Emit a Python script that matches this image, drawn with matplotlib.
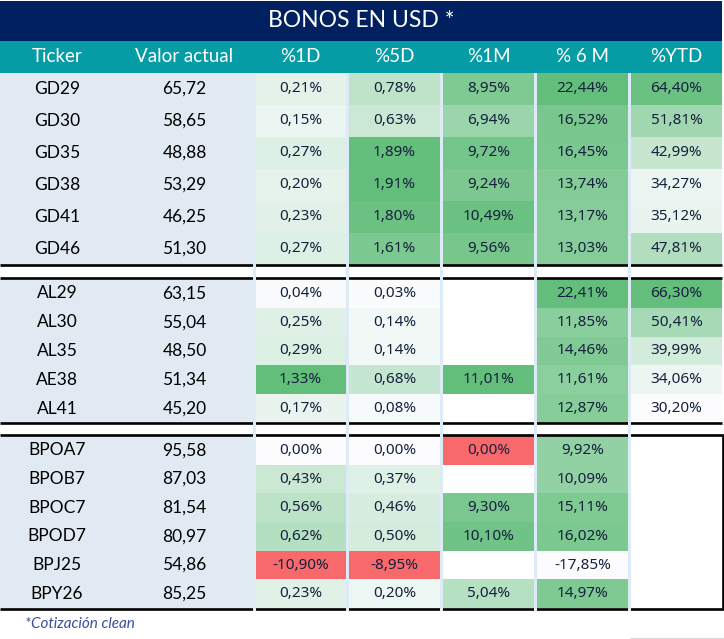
import matplotlib.pyplot as plt
from matplotlib.patches import Rectangle
from matplotlib.colors import LinearSegmentedColormap

# datos
titulo = 'BONOS EN USD *'
encabezados = ['Ticker', 'Valor actual', '%1D', '%5D', '%1M', '% 6 M', '%YTD']
grupos = [6, 5, 6]
tickers = ['GD29', 'GD30', 'GD35', 'GD38', 'GD41', 'GD46',
           'AL29', 'AL30', 'AL35', 'AE38', 'AL41',
           'BPOA7', 'BPOB7', 'BPOC7', 'BPOD7', 'BPJ25', 'BPY26']
valor_actual = [65.72, 58.65, 48.88, 53.29, 46.25, 51.30,
                63.15, 55.04, 48.50, 51.34, 45.20,
                95.58, 87.03, 81.54, 80.97, 54.86, 85.25]
var_1d = [0.21, 0.15, 0.27, 0.20, 0.23, 0.27,
          0.04, 0.25, 0.29, 1.33, 0.17,
          0.00, 0.43, 0.56, 0.62, -10.90, 0.23]
var_5d = [0.78, 0.63, 1.89, 1.91, 1.80, 1.61,
          0.03, 0.14, 0.14, 0.68, 0.08,
          0.00, 0.37, 0.46, 0.50, -8.95, 0.20]
var_1m = [8.95, 6.94, 9.72, 9.24, 10.49, 9.56,
          None, None, None, 11.01, None,
          0.00, None, 9.30, 10.10, None, 5.04]
var_6m = [22.44, 16.52, 16.45, 13.74, 13.17, 13.03,
          22.41, 11.85, 14.46, 11.61, 12.87,
          9.92, 10.09, 15.11, 16.02, -17.85, 14.97]
var_ytd = [64.40, 51.81, 42.99, 34.27, 35.12, 47.81,
           66.30, 50.41, 39.99, 34.06, 30.20,
           None, None, None, None, None, None]
nota = '*Cotización clean'

columnas = [var_1d, var_5d, var_1m, var_6m, var_ytd]
# escala 3 colores con punto medio en 0 (True) o escala min->max blanco-verde (False)
escala_cero = [True, True, True, False, False]

NAVY = '#002060'
TEAL = '#069CA5'
GRIS_AZUL = '#E1E9F3'
SEP = '#DDEBF7'
TEXTO = '#16213D'
verdes = LinearSegmentedColormap.from_list('verdes', ['#FCFCFF', '#63BE7B'])
rojos = LinearSegmentedColormap.from_list('rojos', ['#FCFCFF', '#F8696B'])


def color_celda(v, col, cero):
    vals = [x for x in col if x is not None]
    vmin, vmax = min(vals), max(vals)
    if cero:
        if v > 0:
            return verdes(v / vmax)
        if vmin == 0:
            return rojos(1.0)
        return rojos(v / vmin) if vmin < 0 else verdes(0)
    return verdes((v - vmin) / (vmax - vmin))


def fmt(v):
    return f'{v:.2f}'.replace('.', ',')


plt.rcParams['font.family'] = ['Lato', 'DejaVu Sans']
fig = plt.figure(figsize=(7.24, 6.39), dpi=100)
ax = fig.add_axes([0, 0, 1, 1])
ax.set_xlim(0, 724)
ax.set_ylim(639, 0)
ax.axis('off')

# titulo y encabezado
ax.add_patch(Rectangle((0, 1), 722, 39.5, color=NAVY, lw=0))
ax.text(361, 20.5, titulo, color='white', fontsize=16.5, ha='center', va='center')
ax.add_patch(Rectangle((0, 41), 722, 31.5, color=TEAL, lw=0))

x_datos = [255, 349, 443, 537, 631]
ancho = 91
centros = [57, 184.5] + [x + ancho / 2 for x in x_datos]
for c, h in zip(centros, encabezados):
    ax.text(c, 57, h, color='white', fontsize=13.5, ha='center', va='center')

tops = [73, 279, 436]
alturas = [32, 28.8, 28.67]

i = 0
for g, (n, top, rh) in enumerate(zip(grupos, tops, alturas)):
    ax.add_patch(Rectangle((0, top), 253, n * rh, color=GRIS_AZUL, lw=0))
    for r in range(n):
        y = top + r * rh
        yc = y + rh / 2
        ax.text(centros[0], yc, tickers[i], color='black', fontsize=12.5, ha='center', va='center')
        ax.text(centros[1], yc, fmt(valor_actual[i]), color='black', fontsize=12.5,
                ha='center', va='center')
        for j, (col, cero) in enumerate(zip(columnas, escala_cero)):
            v = col[i]
            if v is None:
                continue
            ax.add_patch(Rectangle((x_datos[j], y), ancho, rh,
                                   color=color_celda(v, col, cero), lw=0))
            ax.text(x_datos[j] + ancho / 2, yc, fmt(v) + '%', color=TEXTO, fontsize=11,
                    ha='center', va='center', family=['Noto Sans', 'DejaVu Sans'])
        i += 1

# lineas negras entre grupos
for y in [265, 277.8, 423, 435, 609]:
    ax.plot([0, 722], [y, y], color='black', lw=1.9, solid_capstyle='butt')
ax.plot([722.5, 722.5], [435, 609], color='black', lw=1.9)

# separadores de columnas
for x in [253, 346, 440, 534, 628]:
    ax.add_patch(Rectangle((x, 72.5), 3, 538, color=SEP, lw=0, zorder=5))

ax.plot([630, 724], [638, 638], color='#D9D9D9', lw=0.8)
ax.text(25, 624, nota, color='#3B4FA0', fontsize=11, style='italic', ha='left', va='center')

fig.savefig('out.png', dpi=100)
